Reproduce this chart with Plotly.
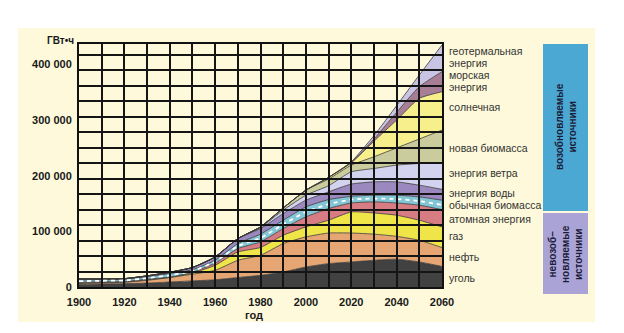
import plotly.graph_objects as go

years = [1900, 1910, 1920, 1930, 1940, 1950, 1960, 1970, 1980, 1990,
         2000, 2010, 2020, 2030, 2040, 2050, 2060]

# values in GWh (stack increments) (thousands)
coal       = [5, 5.5, 6, 7, 9, 11, 13, 17, 21, 27, 36, 42, 45, 48, 50, 45, 37]
oil        = [1.5, 2, 2.5, 5, 8, 12, 17, 31, 36, 51, 54, 55, 52, 47, 41, 39, 34]
gas        = [0.5, 0.5, 0.5, 1, 0.5, 2, 9, 15, 14, 15, 18, 23, 38, 38, 38, 36, 37]
nuclear    = [1.5, 1.5, 1, 1, 0.5, 1.5, 4, 6, 10, 12, 18, 21, 16, 20, 22, 27, 31]
trad_bio   = [4, 3.5, 3.5, 4, 6, 4.5, 5, 9, 14, 15, 18, 16, 12, 12, 14, 15, 17]
hydro      = [2, 1.5, 1.5, 2, 2.5, 4, 6, 9, 10, 12, 12, 14, 22, 24, 24, 21, 19.5]
wind       = [0, 0, 0, 0, 0, 0, 0, 0, 2, 6, 9, 11, 22, 24, 30, 39, 48]
new_bio    = [0, 0, 0, 0, 0, 0, 0, 0, 1, 4, 9, 12, 12, 21, 31, 44, 58.5]
solar      = [0, 0, 0, 0, 0, 0, 0, 0, 0, 0, 0, 3, 4, 28, 50, 73, 69]
marine     = [0, 0, 0, 0, 0, 0, 0, 0, 0, 0, 0, 0, 1, 4, 14, 21, 36]
geothermal = [0, 0, 0, 0, 0, 0, 0, 0, 0, 0, 0, 0, 1, 6, 12, 21, 48]

series = [
    ("уголь", coal, "#414141"),
    ("нефть", oil, "#e6a673"),
    ("газ", gas, "#efe448"),
    ("атомная энергия", nuclear, "#d67c82"),
    ("обычная биомасса", trad_bio, "#82c5d5"),
    ("энергия воды", hydro, "#9b88be"),
    ("энергия ветра", wind, "#d3d3f0"),
    ("новая биомасса", new_bio, "#cbcc9d"),
    ("солнечная", solar, "#f6ef8c"),
    ("морская энергия", marine, "#a87d96"),
    ("геотермальная энергия", geothermal, "#cac4e4"),
]

x_ticks = [1900, 1920, 1940, 1960, 1980, 2000, 2020, 2040, 2060]
y_ticks = [0, 100000, 200000, 300000, 400000]
y_ticktext = ["0", "100 000", "200 000", "300 000", "400 000"]

right_labels = [
    ("геотермальная", 50.5),
    ("энергия", 62.5),
    ("морская", 75),
    ("энергия", 87),
    ("солнечная", 107),
    ("новая биомасса", 148),
    ("энергия ветра", 173),
    ("энергия воды", 192.5),
    ("обычная биомасса", 204.5),
    ("атомная энергия", 219),
    ("газ", 236),
    ("нефть", 257),
    ("уголь", 277.5),
]

W, H = 624, 333
L, R, T, B = 79, 442, 44, 287


def px(x):
    return (x - L) / (R - L)


def py(y):
    return (B - y) / (B - T)


fig = go.Figure()

for name, vals, col in series:
    fig.add_trace(go.Scatter(
        x=years, y=[v * 1000 for v in vals], name=name, mode="lines",
        stackgroup="one", fillcolor=col,
        line=dict(color="#3a3a3a", width=0.8, shape="spline", smoothing=0.5),
        hoverinfo="skip"))

# white dashed line inside the traditional biomass band
base = [sum(s[1][i] for s in series[:4]) for i in range(len(years))]
dash_y = [(base[i] + 0.5 * trad_bio[i]) * 1000 for i in range(len(years))]
fig.add_trace(go.Scatter(x=years, y=dash_y, mode="lines",
                         line=dict(color="white", width=1.8, dash="4px,4px",
                                   shape="spline", smoothing=0.5),
                         hoverinfo="skip", showlegend=False))

# grid subplot drawn on top of the areas
fig.add_trace(go.Scatter(x=[1900], y=[0], xaxis="x2", yaxis="y2", mode="markers",
                         marker=dict(opacity=0), hoverinfo="skip", showlegend=False))

YMAX = 436700
tick_font = dict(family="Liberation Sans, Arial", size=11, color="#1a1a1a")

fig.update_layout(
    width=W, height=H, showlegend=False,
    margin=dict(l=L, r=W - R, t=T, b=H - B),
    paper_bgcolor="white", plot_bgcolor="rgba(0,0,0,0)",
    xaxis=dict(range=[1900, 2060], tickvals=x_ticks,
               ticktext=["<b>%d</b>" % v for v in x_ticks], showgrid=False, zeroline=False,
               showline=True, linecolor="#111", linewidth=2, mirror=True,
               ticks="outside", ticklen=4, tickcolor="rgba(0,0,0,0)",
               tickfont=tick_font, fixedrange=True),
    yaxis=dict(range=[0, YMAX], tickvals=y_ticks,
               ticktext=["<b>%s</b>" % t for t in y_ticktext], showgrid=False,
               zeroline=False, showline=True, linecolor="#111", linewidth=2, mirror=True,
               ticks="outside", ticklen=3, tickcolor="rgba(0,0,0,0)",
               tickfont=tick_font, fixedrange=True),
    xaxis2=dict(range=[1900, 2060], dtick=10, tick0=1900, showgrid=True, gridcolor="#151515",
                gridwidth=1.6, showticklabels=False, zeroline=False, anchor="y2",
                fixedrange=True),
    yaxis2=dict(range=[0, YMAX], dtick=27840, tick0=0, showgrid=True, gridcolor="#151515",
                gridwidth=1.6, showticklabels=False, zeroline=False, anchor="x2",
                fixedrange=True),
    font=dict(family="Liberation Sans, Arial"),
)

shapes = [
    dict(type="rect", xref="paper", yref="paper", x0=px(18), x1=px(595), y0=py(322), y1=py(28),
         fillcolor="#fdf9da", line=dict(width=0), layer="below"),
    dict(type="rect", xref="paper", yref="paper", x0=px(543), x1=px(588), y0=py(211), y1=py(44),
         fillcolor="#4ba8d2", line=dict(width=0), layer="below"),
    dict(type="rect", xref="paper", yref="paper", x0=px(543), x1=px(588), y0=py(294), y1=py(213),
         fillcolor="#aaa4d6", line=dict(width=0), layer="below"),
]
fig.update_layout(shapes=shapes)

ann = []
for text, yy in right_labels:
    ann.append(dict(x=px(447), y=py(yy), xref="paper", yref="paper", text=text,
                    xanchor="left", yanchor="middle", align="left", showarrow=False,
                    font=dict(family="Liberation Sans, Arial", size=10.5, color="#333")))
ann.append(dict(x=px(76), y=py(41), xref="paper", yref="paper", text="<b>ГВт•ч</b>",
                xanchor="right", yanchor="middle", showarrow=False,
                font=dict(family="Liberation Sans, Arial", size=10, color="#1a1a1a")))
ann.append(dict(x=px(254), y=py(315), xref="paper", yref="paper", text="<b>год</b>",
                xanchor="center", yanchor="middle", showarrow=False,
                font=dict(family="Liberation Sans, Arial", size=11, color="#1a1a1a")))
ann.append(dict(x=px(566), y=py(127), xref="paper", yref="paper",
                text="<b>возобновляемые<br>источники</b>", textangle=-90,
                xanchor="center", yanchor="middle", showarrow=False,
                font=dict(family="Liberation Sans, Arial", size=10, color="#1c1c3a")))
ann.append(dict(x=px(565), y=py(254), xref="paper", yref="paper",
                text="<b>невозоб–<br>новляемые<br>источники</b>", textangle=-90,
                xanchor="center", yanchor="middle", showarrow=False,
                font=dict(family="Liberation Sans, Arial", size=10, color="#1c1c3a")))
fig.update_layout(annotations=ann)

fig.write_html("out.html")
